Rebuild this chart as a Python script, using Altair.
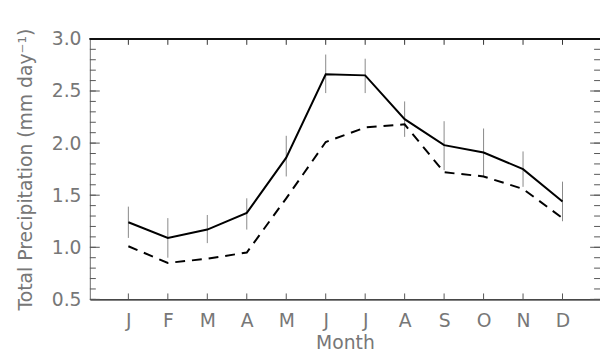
import json
import altair as alt
import pandas as pd

months = ["J", "F", "M", "A", "M", "J", "J", "A", "S", "O", "N", "D"]
solid = [1.24, 1.09, 1.17, 1.33, 1.86, 2.66, 2.65, 2.23, 1.98, 1.91, 1.75, 1.44]
dashed = [1.01, 0.85, 0.89, 0.95, 1.47, 2.01, 2.15, 2.18, 1.72, 1.68, 1.56, 1.28]
err_lo = [1.09, 0.90, 1.04, 1.17, 1.68, 2.48, 2.48, 2.06, 1.74, 1.68, 1.58, 1.25]
err_hi = [1.39, 1.28, 1.31, 1.47, 2.07, 2.85, 2.81, 2.40, 2.21, 2.14, 1.92, 1.63]
y_labels = [0.5, 1.0, 1.5, 2.0, 2.5, 3.0]
y_minor = [round(0.5 + 0.1 * i, 1) for i in range(26)]

W, H = 517, 264
FONT = "DejaVu Sans"
TXT = "#777777"
FS = 19

idx = list(range(1, len(months) + 1))
df = pd.DataFrame({"m": idx, "solid": solid, "dashed": dashed, "lo": err_lo, "hi": err_hi})
major_df = pd.DataFrame({"v": y_labels})
minor_df = pd.DataFrame({"v": y_minor})
mon_df = pd.DataFrame({"m": idx})

xs = alt.Scale(domain=[0.025, 12.95], nice=False, zero=False)
ys = alt.Scale(domain=[0.5, 3.0], nice=False, zero=False)

label_expr = json.dumps(months) + "[datum.value - 1]"

x_axis = alt.Axis(values=idx, labelExpr=label_expr, ticks=False, grid=False,
                  domainColor="#111111", domainWidth=1.2, labelFontSize=FS,
                  labelFont=FONT, labelColor=TXT, labelPadding=12,
                  title="Month", titleFont=FONT, titleFontWeight="normal", titleFontSize=FS,
                  titleColor=TXT, titlePadding=4)
y_axis = alt.Axis(values=y_labels, format=".1f", ticks=False, grid=False,
                  domainColor="#888888", domainWidth=1.2, labelFontSize=FS,
                  labelFont=FONT, labelColor=TXT, labelPadding=9,
                  title="Total Precipitation (mm day⁻¹)", titleFont=FONT, titleFontWeight="normal",
                  titleFontSize=FS, titleColor=TXT, titlePadding=16)

base = alt.Chart(df)

err = base.mark_rule(color="#888888", strokeWidth=1).encode(
    x=alt.X("m:Q", scale=xs, axis=x_axis),
    y=alt.Y("lo:Q", scale=ys, axis=y_axis),
    y2="hi:Q",
)
line_solid = base.mark_line(color="#000000", strokeWidth=2).encode(
    x=alt.X("m:Q", scale=xs), y=alt.Y("solid:Q", scale=ys))
line_dashed = base.mark_line(color="#000000", strokeWidth=2, strokeDash=[10, 7]).encode(
    x=alt.X("m:Q", scale=xs), y=alt.Y("dashed:Q", scale=ys))

left_major = alt.Chart(major_df).mark_rule(color="#555555", strokeWidth=1).encode(
    y=alt.Y("v:Q", scale=ys), x=alt.value(0), x2=alt.value(10))
left_minor = alt.Chart(minor_df).mark_rule(color="#555555", strokeWidth=1).encode(
    y=alt.Y("v:Q", scale=ys), x=alt.value(0), x2=alt.value(6))
right_major = alt.Chart(major_df).mark_rule(color="#555555", strokeWidth=1).encode(
    y=alt.Y("v:Q", scale=ys), x=alt.value(W - 10), x2=alt.value(W))
right_minor = alt.Chart(minor_df).mark_rule(color="#555555", strokeWidth=1).encode(
    y=alt.Y("v:Q", scale=ys), x=alt.value(W - 6), x2=alt.value(W))
bottom_ticks = alt.Chart(mon_df).mark_rule(color="#555555", strokeWidth=1).encode(
    x=alt.X("m:Q", scale=xs), y=alt.value(H), y2=alt.value(H - 6))
top_ticks = alt.Chart(mon_df).mark_rule(color="#333333", strokeWidth=1).encode(
    x=alt.X("m:Q", scale=xs), y=alt.value(0), y2=alt.value(6))
top_border = alt.Chart(mon_df).mark_rule(color="#111111", strokeWidth=1.2).encode(
    x=alt.value(0), x2=alt.value(W), y=alt.value(0))

chart = alt.layer(
    err, line_solid, line_dashed,
    left_major, left_minor, right_major, right_minor,
    bottom_ticks, top_ticks, top_border,
).properties(
    width=W, height=H,
    autosize=alt.AutoSizeParams(type="none"),
    padding={"left": 83, "top": 29, "right": 0, "bottom": 51},
).configure_view(stroke=None).configure(background="white")

chart.save("out.html", embed_options={"renderer": "svg", "actions": False})
